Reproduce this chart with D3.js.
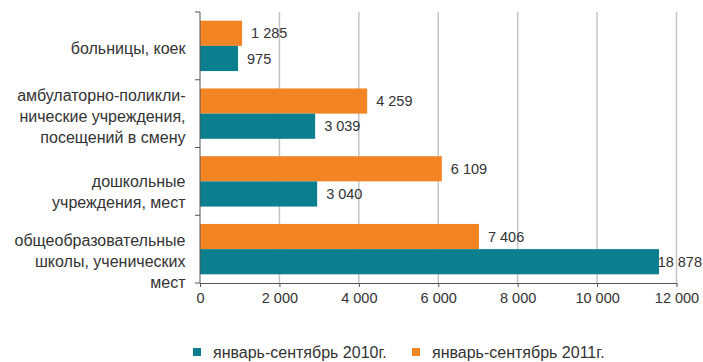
<!DOCTYPE html>
<html><head><meta charset="utf-8">
<script src="https://cdn.jsdelivr.net/npm/d3@7"></script>
<style>body{margin:0;background:#fff;} svg{display:block;font-family:"Liberation Sans",Arial,sans-serif;}</style>
</head><body><svg id="c" width="703" height="362"></svg>
<script>
const categories = [
  ["больницы, коек"],
  ["амбулаторно-поликли-", "нические учреждения,", "посещений в смену"],
  ["дошкольные", "учреждения, мест"],
  ["общеобразовательные", "школы, ученических", "мест"]
];
const seriesNames = ["январь-сентябрь 2010г.", "январь-сентябрь 2011г."];
// bar lengths as drawn in the picture
const bars2010 = [958, 2900, 2950, 11560];
const bars2011 = [1060, 4210, 6090, 7025];
// printed labels
const labels2010 = ["975", "3 039", "3 040", "18 878"];
const labels2011 = ["1 285", "4 259", "6 109", "7 406"];
const xTicks = [0, 2000, 4000, 6000, 8000, 10000, 12000];
const xTickLabels = ["0", "2 000", "4 000", "6 000", "8 000", "10 000", "12 000"];

(function() {
const colors = {s2010: "#0b7f8d", s2011: "#f38423"};
const textColor = "#333";
const svg = d3.select("#c");
const mLeft = 200, mRight = 676.5, mTop = 12, mBottom = 283;
const x = d3.scaleLinear().domain([0, 12000]).range([mLeft, mRight]);
const y = d3.scaleBand().domain(d3.range(categories.length)).range([mTop, mBottom]).paddingInner(0).paddingOuter(0);
const inner = d3.scaleBand().domain(["s2011", "s2010"]).range([0, y.bandwidth()]).paddingInner(0).paddingOuter(0.345);

// gridlines
svg.append("g").selectAll("line").data(xTicks.slice(1)).join("line")
  .attr("x1", d => x(d)).attr("x2", d => x(d)).attr("y1", mTop).attr("y2", mBottom)
  .attr("stroke", "#c4c4c4").attr("stroke-width", 1.5);

// bars
const data = [];
categories.forEach((c, i) => {
  data.push({i, s: "s2011", v: bars2011[i], label: labels2011[i]});
  data.push({i, s: "s2010", v: bars2010[i], label: labels2010[i]});
});
svg.append("g").selectAll("rect").data(data).join("rect")
  .attr("x", x(0)).attr("y", d => y(d.i) + inner(d.s))
  .attr("width", d => x(d.v) - x(0)).attr("height", inner.bandwidth())
  .attr("fill", d => colors[d.s]);

// value labels
const lbl = svg.append("g").selectAll("text").data(data).join("text")
  .attr("y", d => y(d.i) + inner(d.s) + inner.bandwidth() / 2)
  .attr("dy", "0.35em").attr("font-size", 14.5).attr("fill", textColor)
  .text(d => d.label);
lbl.each(function(d) {
  const w = this.getComputedTextLength();
  const xx = Math.min(x(d.v) + 9, 702 - w);
  d3.select(this).attr("x", xx);
});

// x axis
const xAxis = d3.axisBottom(x).tickValues(xTicks).tickFormat((d, i) => xTickLabels[i]).tickSize(4).tickPadding(6).tickSizeOuter(0);
const gx = svg.append("g").attr("transform", `translate(0,${mBottom})`).call(xAxis);
gx.select(".domain").attr("stroke", "#555");
gx.selectAll(".tick line").attr("stroke", "#555");
gx.selectAll("text").attr("font-size", 14.5).attr("fill", textColor).attr("font-family", "Liberation Sans, Arial, sans-serif");

// y axis line and ticks between categories
svg.append("line").attr("x1", mLeft).attr("x2", mLeft).attr("y1", mTop).attr("y2", mBottom).attr("stroke", "#555");
const yTicks = d3.range(categories.length + 1).map(i => i < categories.length ? y(i) : mBottom);
svg.append("g").selectAll("line").data(yTicks).join("line")
  .attr("x1", mLeft - 5).attr("x2", mLeft).attr("y1", d => d).attr("y2", d => d).attr("stroke", "#555");

// category labels
const lh = 21;
const shift = [3, 3, 10.5, 12];
const cg = svg.append("g");
categories.forEach((lines, i) => {
  const cy = y(i) + y.bandwidth() / 2 + shift[i];
  const t = cg.append("text").attr("text-anchor", "end").attr("font-size", 16).attr("fill", textColor);
  lines.forEach((ln, j) => {
    t.append("tspan").attr("x", 185.5).attr("y", cy + (j - (lines.length - 1) / 2) * lh).attr("dy", "0.35em").text(ln);
  });
});

// legend
const leg = [{s: "s2010", name: seriesNames[0], x: 193}, {s: "s2011", name: seriesNames[1], x: 412}];
const lg = svg.append("g").selectAll("g").data(leg).join("g").attr("transform", d => `translate(${d.x},352)`);
lg.append("rect").attr("x", 0).attr("y", -4).attr("width", 8).attr("height", 8).attr("fill", d => colors[d.s]);
lg.append("text").attr("x", 20).attr("dy", "0.35em").attr("font-size", 16).attr("fill", textColor).text(d => d.name);
})();
</script></body></html>
